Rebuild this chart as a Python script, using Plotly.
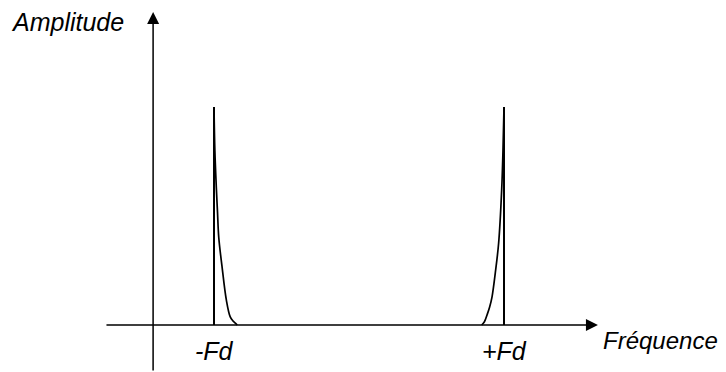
import plotly.graph_objects as go

# Schematic Doppler spectrum: two spikes at -Fd and +Fd (frequency in units of Fd,
# amplitude normalised to the spike height)
spike_freqs = [-1.0, 1.0]
spike_labels = ["-Fd", "+Fd"]
spike_amp = 1.0

# decaying tail on the right of -Fd (offset from -Fd, amplitude)
left_offset = [0.0, 0.006, 0.016, 0.024, 0.033, 0.055, 0.085, 0.112, 0.132, 0.147, 0.160]
left_amp = [1.0, 0.80, 0.63, 0.52, 0.40, 0.27, 0.115, 0.037, 0.018, 0.009, 0.0]

# rising tail on the left of +Fd (offset before +Fd, amplitude)
right_offset = [0.0, 0.007, 0.016, 0.037, 0.060, 0.0828, 0.100, 0.117, 0.135, 0.154]
right_amp = [1.0, 0.80, 0.62, 0.376, 0.239, 0.128, 0.080, 0.046, 0.015, 0.0]

axis_x_label = "Fréquence"
axis_y_label = "Amplitude"

FONT = "Liberation Sans, Arial, sans-serif"
# the page body has an 8px margin, so the figure is drawn slightly smaller
W, H = 718, 364

x_range = [-2.4207, 2.5310]
y_range = [-0.2156, 1.4541]
origin_x = -1.42          # position of the vertical Amplitude axis
x_start = -1.752
x_end = 1.648
y_bottom = y_range[0]
y_top = 1.436

fig = go.Figure()

for f in spike_freqs:
    fig.add_trace(go.Scatter(x=[f, f], y=[0, spike_amp], mode="lines",
                             line=dict(color="black", width=2), hoverinfo="skip"))

fig.add_trace(go.Scatter(x=[spike_freqs[0] + d for d in left_offset], y=left_amp,
                         mode="lines", line=dict(color="black", width=1.7, shape="spline"),
                         hoverinfo="skip"))
fig.add_trace(go.Scatter(x=[spike_freqs[1] - d for d in right_offset], y=right_amp,
                         mode="lines", line=dict(color="black", width=1.7, shape="spline"),
                         hoverinfo="skip"))

# axes with arrows
fig.add_annotation(x=x_end, y=0, ax=x_start, ay=0, xref="x", yref="y", axref="x", ayref="y",
                   showarrow=True, arrowhead=2, arrowsize=1.6, arrowwidth=1.5,
                   arrowcolor="black", text="")
fig.add_annotation(x=origin_x, y=y_top, ax=origin_x, ay=y_bottom, xref="x", yref="y",
                   axref="x", ayref="y", showarrow=True, arrowhead=2, arrowsize=1.6,
                   arrowwidth=1.5, arrowcolor="black", text="")

italic = dict(family=FONT, size=25, color="black", style="italic")
italic_x = dict(family=FONT, size=24, color="black", style="italic")

for f, lab in zip(spike_freqs, spike_labels):
    fig.add_annotation(x=f, y=-0.119, xref="x", yref="y", text=lab, showarrow=False,
                       font=italic, xanchor="center", yanchor="middle")

fig.add_annotation(x=1.672, y=-0.069, xref="x", yref="y", text=axis_x_label,
                   showarrow=False, font=italic_x, xanchor="left", yanchor="middle")
fig.add_annotation(x=-2.415, y=1.39, xref="x", yref="y", text=axis_y_label,
                   showarrow=False, font=italic, xanchor="left", yanchor="middle")

fig.update_layout(
    width=W, height=H, margin=dict(l=0, r=0, t=0, b=0),
    paper_bgcolor="white", plot_bgcolor="white", showlegend=False,
    xaxis=dict(range=x_range, visible=False, fixedrange=True),
    yaxis=dict(range=y_range, visible=False, fixedrange=True),
)

fig.write_html("out.html")
